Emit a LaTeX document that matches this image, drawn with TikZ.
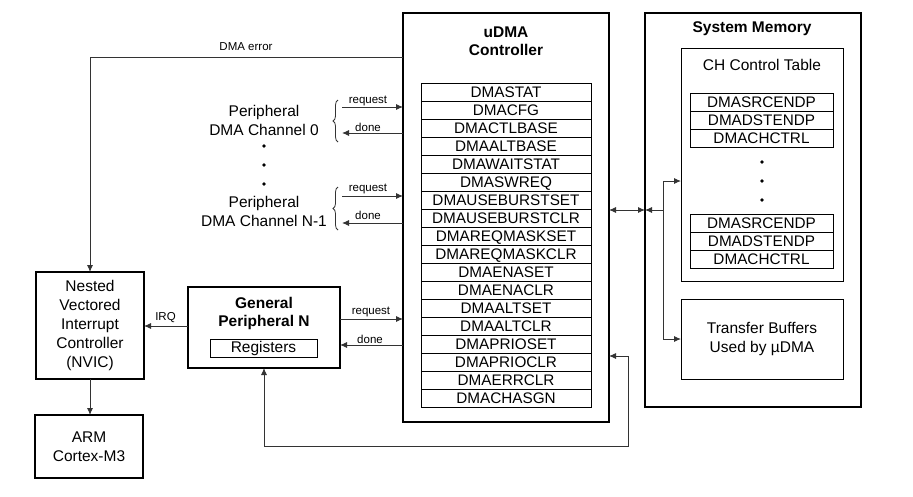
\documentclass[tikz,border=0pt]{standalone}
\usepackage{fontspec}
\setmainfont{Liberation Sans}
\usetikzlibrary{arrows.meta,decorations.pathreplacing,calc}
\begin{document}
\begin{tikzpicture}[x=1pt,y=-1pt,
  box/.style={draw, line width=1.1pt, inner sep=0pt, outer sep=0pt, anchor=north west, align=center, font=\fontsize{15.5}{19}\selectfont},
  reg/.style={draw, line width=0.9pt, inner sep=0pt, outer sep=0pt, anchor=north west, minimum height=18pt, text height=11pt, text depth=0pt, font=\fontsize{15.3}{18}\selectfont},
  udmareg/.style={reg, minimum width=170pt},
  memreg/.style={reg, minimum width=143pt},
  title/.style={inner sep=0pt, align=center, font=\bfseries\fontsize{15.5}{18}\selectfont},
  txt/.style={inner sep=0pt, align=center, font=\fontsize{15.5}{19}\selectfont},
  small/.style={inner sep=0pt, font=\fontsize{11.5}{13}\selectfont},
  conn/.style={draw=black!80, line width=0.9pt},
  arr/.style={conn, -{Latex[length=7pt,width=6pt]}},
  darr/.style={conn, {Latex[length=7pt,width=6pt]}-{Latex[length=7pt,width=6pt]}},
  dot/.style={circle, fill=black, inner sep=0pt, minimum size=3.6pt},
  bracestyle/.style={draw=black!80, line width=0.8pt, decorate, decoration={brace, amplitude=5pt}}
]
\useasboundingbox (0,0) rectangle (913,496);

% uDMA controller
\node[box, minimum width=206pt, minimum height=409pt] (udma) at (403,13) {};
\node[title] (udmatitle) at (506,41) {uDMA\\Controller};
\foreach \n [count=\i from 0] in {DMASTAT,DMACFG,DMACTLBASE,DMAALTBASE,DMAWAITSTAT,DMASWREQ,DMAUSEBURSTSET,DMAUSEBURSTCLR,DMAREQMASKSET,DMAREQMASKCLR,DMAENASET,DMAENACLR,DMAALTSET,DMAALTCLR,DMAPRIOSET,DMAPRIOCLR,DMAERRCLR,DMACHASGN}
  \node[udmareg] (r\i) at (421,{83+18*\i}) {\n};

% System memory
\node[box, minimum width=216pt, minimum height=394pt] (sysmem) at (645,13) {};
\node[title] (smtitle) at (752,29) {System Memory};
\node[box, line width=1pt, minimum width=162pt, minimum height=233pt] (ch) at (681,48) {};
\node[txt] (chtitle) at (762,65) {CH Control Table};
\node[memreg] (m0) at (690,93) {DMASRCENDP};
\node[memreg] (m1) at (690,111) {DMADSTENDP};
\node[memreg] (m2) at (690,129) {DMACHCTRL};
\node[dot] (md1) at (762,162) {};
\node[dot] (md2) at (762,181) {};
\node[dot] (md3) at (762,200) {};
\node[memreg] (m3) at (690,214) {DMASRCENDP};
\node[memreg] (m4) at (690,232) {DMADSTENDP};
\node[memreg] (m5) at (690,250) {DMACHCTRL};
\node[box, line width=1pt, minimum width=162pt, minimum height=80pt] (tb) at (681,299) {Transfer Buffers\\Used by µDMA};

% Peripheral channels
\node[txt] (pc0) at (264,120) {Peripheral\\DMA Channel 0};
\node[dot] (pd1) at (264,146) {};
\node[dot] (pd2) at (264,165) {};
\node[dot] (pd3) at (264,184) {};
\node[txt] (pcn) at (264,211) {Peripheral\\DMA Channel N-1};
\draw[bracestyle] (338,142) -- (338,100);
\draw[bracestyle] (338,230) -- (338,187);
\coordinate (c0r) at (342,107);
\coordinate (c0d) at (342,133);
\coordinate (cnr) at (342,196);
\coordinate (cnd) at (342,223);
\draw[arr] (c0r) -- (udma.west |- c0r);
\draw[arr] (udma.west |- c0d) -- (c0d);
\draw[arr] (cnr) -- (udma.west |- cnr);
\draw[arr] (udma.west |- cnd) -- (cnd);
\node[small] (l0r) at (368,101) {request};
\node[small] (l0d) at (368,127) {done};
\node[small] (lnr) at (368,189) {request};
\node[small] (lnd) at (368,215) {done};

% General peripheral
\node[box, minimum width=152pt, minimum height=81pt] (gp) at (188,287) {};
\node[title] (gptitle) at (264,313) {General\\Peripheral N};
\node[box, line width=1pt, minimum width=107pt, minimum height=18pt] (gpreg) at (210,339) {Registers};
\draw[arr] (gp.east |- 0,319) -- (udma.west |- 0,319);
\draw[arr] (udma.west |- 0,345) -- (gp.east |- 0,345);
\node[small] (lgr) at (371,312) {request};
\node[small] (lgd) at (370,339) {done};

% NVIC and ARM
\node[box, minimum width=108pt, minimum height=107pt] (nvic) at (36,272) {Nested\\Vectored\\Interrupt\\Controller\\(NVIC)};
\node[box, minimum width=108pt, minimum height=63pt] (arm) at (35,415) {ARM\\Cortex-M3};
\draw[arr] (gp.west |- 0,326) -- (nvic.east |- 0,326);
\node[small] (lirq) at (165.5,318) {IRQ};
\draw[arr] (nvic.south) -- (nvic.south |- arm.north);

% DMA error
\draw[arr] (udma.west |- 0,57) -| (nvic.north);
\node[small] (lerr) at (246,47) {DMA error};

% Memory connections
\coordinate (mj) at (663,210);
\draw[darr] (udma.east |- mj) -- (sysmem.west |- mj);
\draw[arr] (mj) -- (sysmem.west |- mj);
\draw[arr] (mj) |- (ch.west |- 0,181);
\draw[arr] (mj) |- (tb.west |- 0,339);

% Bottom loop
\coordinate (bl) at (628,446);
\draw[darr] (udma.east |- 0,356) -| (bl) -| (gp.south);
\end{tikzpicture}
\end{document}
